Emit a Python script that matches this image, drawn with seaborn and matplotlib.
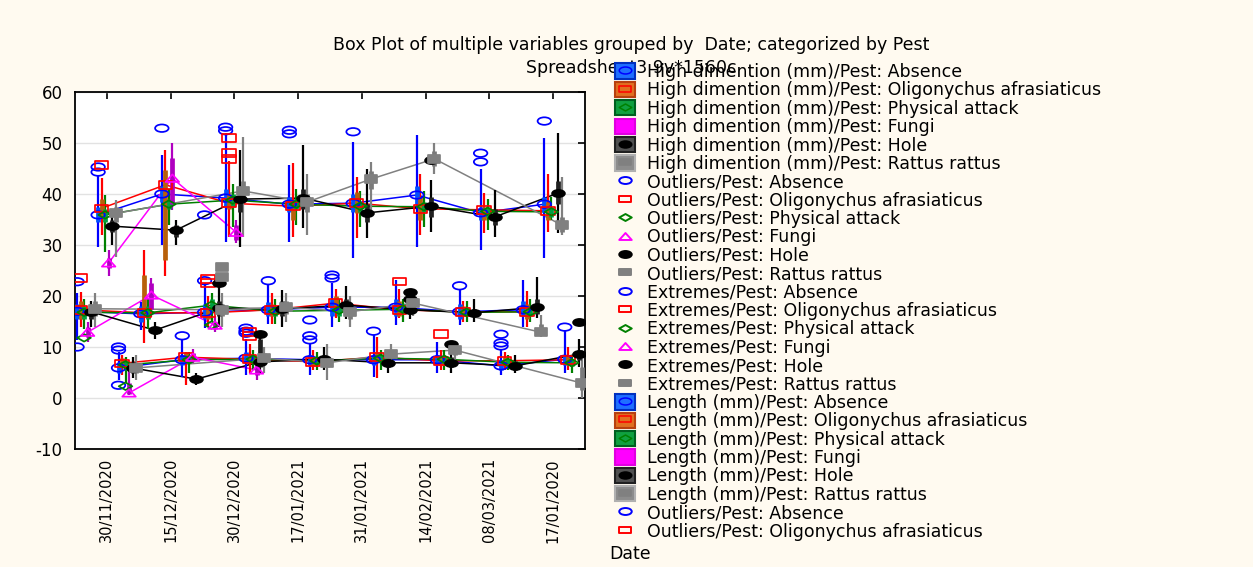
import numpy as np
import pandas as pd
import matplotlib
matplotlib.use("Agg")
import matplotlib.pyplot as plt
import matplotlib.patches as mpatches
from matplotlib.lines import Line2D
from matplotlib.path import Path
from matplotlib.markers import MarkerStyle
from matplotlib.legend_handler import HandlerTuple
import seaborn as sns

NA = np.nan

# ---------------- data ----------------
dates = ["30/11/2020", "15/12/2020", "30/12/2020", "17/01/2021",
         "31/01/2021", "14/02/2021", "08/03/2021", "17/01/2020"]
pests = ["Absence", "Oligonychus afrasiaticus", "Physical attack",
         "Fungi", "Hole", "Rattus rattus"]
variables = ["Length (mm)", "High dimention (mm)", "Third variable"]

# High dimention (mm): rows = pests, cols = dates
high_med = [[35.9, 40.0, 39.2, 38.0, 38.2, 39.8, 36.3, 38.0],
            [37.2, 41.8, 38.2, 37.6, 38.2, 37.1, 36.9, 36.7],
            [35.9, 38.0, 38.8, 38.0, 37.6, 37.5, 36.6, 36.5],
            [26.5, 43.1, 32.5, NA, NA, NA, NA, NA],
            [33.7, 32.9, 39.0, 39.2, 36.3, 37.6, 35.5, 40.2],
            [36.2, NA, 40.6, 38.4, 42.9, 46.9, NA, 33.9]]
high_q1 = [[34.5, 38.5, 37.5, 36.5, 36.5, 38.0, 35.0, 36.5],
           [35.5, 27.0, 37.0, 35.0, 36.3, 35.0, 35.0, 35.0],
           [34.5, 37.0, 37.5, 37.0, 36.5, 36.5, 35.5, 35.5],
           [25.5, 38.0, 31.0, NA, NA, NA, NA, NA],
           [32.5, 31.5, 36.5, 37.0, 34.5, 35.5, 34.0, 38.0],
           [34.5, NA, 38.5, 36.5, 41.0, 45.5, NA, 32.5]]
high_q3 = [[37.5, 41.5, 41.0, 39.5, 40.0, 41.5, 37.5, 39.5],
           [39.0, 44.7, 40.0, 37.5, 40.4, 39.4, 37.5, 38.5],
           [37.0, 39.0, 40.0, 39.0, 38.5, 38.5, 37.5, 37.5],
           [27.5, 47.0, 34.0, NA, NA, NA, NA, NA],
           [35.0, 34.0, 41.0, 41.0, 38.0, 39.5, 37.0, 42.5],
           [37.5, NA, 42.5, 40.0, 44.5, 48.5, NA, 35.5]]
high_lo = [[29.6, 30.0, 30.6, 30.6, 27.5, 29.6, 29.0, 27.5],
           [32.0, 24.0, 31.6, 31.5, 31.4, 32.0, 32.4, 32.5],
           [28.6, 34.0, 33.5, 34.0, 33.5, 33.5, 33.0, 34.9],
           [24.0, 36.9, 30.4, NA, NA, NA, NA, NA],
           [30.0, 30.0, 29.6, 33.3, 31.4, 32.5, 31.6, 32.4],
           [27.6, NA, 31.6, 32.0, 36.3, 44.0, NA, 32.0]]
high_hi = [[43.5, 47.6, 52.0, 45.7, 50.2, 51.6, 44.9, 51.0],
           [43.1, 48.6, 46.5, 46.0, 43.3, 44.0, 40.2, 44.0],
           [39.8, 41.0, 42.0, 41.0, 40.5, 40.5, 39.0, 39.4],
           [29.0, 50.0, 35.0, NA, NA, NA, NA, NA],
           [37.0, 35.0, 48.6, 49.6, 45.0, 42.7, 40.8, 52.0],
           [38.8, NA, 51.2, 44.0, 46.3, 50.0, NA, 43.3]]
# outliers / extremes: (pest index, date index, value)
high_out = [(0, 0, 45.3), (0, 0, 44.3), (0, 1, 52.9), (0, 2, 53.1), (0, 2, 52.4),
            (0, 3, 52.5), (0, 3, 51.8), (0, 4, 52.2), (0, 6, 48.0), (0, 6, 46.3),
            (0, 7, 54.3), (1, 0, 45.7), (1, 2, 51.0), (1, 2, 48.0), (1, 2, 46.9),
            (4, 5, 46.7)]

# Length (mm)
len_med = [[17.0, 16.5, 16.8, 17.3, 17.8, 17.8, 16.9, 17.3],
           [17.3, 16.7, 16.7, 17.3, 18.6, 17.3, 16.9, 16.9],
           [16.8, 16.7, 18.2, 17.0, 17.2, 17.4, 16.8, 16.9],
           [12.9, 20.2, 14.3, NA, NA, NA, NA, NA],
           [16.9, 13.3, 17.6, 17.5, 18.2, 17.3, 16.7, 17.8],
           [17.5, NA, 17.3, 17.8, 16.9, 18.6, NA, 12.9]]
len_q1 = [[15.5, 15.0, 15.5, 16.0, 16.0, 16.0, 15.5, 16.0],
          [15.5, 16.9, 15.5, 16.0, 17.0, 16.0, 16.0, 15.5],
          [15.5, 15.5, 17.0, 16.0, 16.0, 16.5, 16.0, 16.0],
          [12.0, 17.5, 13.5, NA, NA, NA, NA, NA],
          [15.5, 12.5, 16.0, 16.0, 17.0, 16.5, 16.0, 16.5],
          [16.0, NA, 16.0, 16.5, 15.5, 17.5, NA, 12.5]]
len_q3 = [[18.5, 18.0, 18.5, 18.8, 19.5, 19.5, 18.5, 19.0],
          [19.0, 24.1, 18.0, 18.5, 20.0, 19.0, 18.0, 18.5],
          [18.0, 18.0, 19.5, 18.0, 18.5, 18.5, 17.8, 18.0],
          [14.0, 22.5, 15.0, NA, NA, NA, NA, NA],
          [18.0, 14.0, 19.0, 19.0, 19.5, 18.5, 17.5, 19.5],
          [19.0, NA, 18.5, 19.0, 18.0, 19.5, NA, 14.5]]
len_lo = [[11.4, 13.3, 13.7, 14.5, 13.9, 14.3, 14.3, 13.9],
          [13.9, 10.8, 14.0, 14.5, 15.7, 15.7, 15.0, 14.0],
          [13.5, 13.5, 15.0, 14.5, 15.0, 15.0, 15.0, 15.0],
          [11.0, 15.9, 13.0, NA, NA, NA, NA, NA],
          [14.0, 11.5, 14.0, 14.0, 15.5, 15.5, 15.0, 15.7],
          [14.0, NA, 13.9, 15.0, 14.0, 16.0, NA, 12.0]]
len_hi = [[20.6, 18.8, 22.5, 22.3, 22.5, 23.1, 21.2, 23.1],
          [20.8, 29.0, 20.0, 20.5, 21.4, 21.4, 19.0, 21.0],
          [19.5, 19.4, 20.5, 19.5, 19.5, 19.5, 19.0, 19.5],
          [15.0, 23.5, 16.0, NA, NA, NA, NA, NA],
          [19.0, 15.0, 22.5, 21.2, 21.9, 20.0, 19.5, 23.7],
          [20.5, NA, 20.6, 20.5, 20.0, 21.0, NA, 16.3]]
len_out = [(0, 0, 22.8), (0, 0, 10.0), (0, 2, 23.0), (0, 2, 35.9), (0, 3, 23.0),
           (0, 4, 24.1), (0, 4, 23.5), (0, 6, 22.0), (1, 0, 23.5), (1, 2, 23.3),
           (1, 2, 22.5), (1, 5, 22.8), (2, 0, 11.8), (2, 2, 14.3), (4, 2, 22.5),
           (4, 5, 20.8), (4, 5, 19.4), (5, 2, 25.7), (5, 2, 23.7)]

# third variable (legend entries cut off in the original)
v3_med = [[5.9, 7.5, 7.8, 7.5, 7.5, 7.5, 6.3, 7.6],
          [6.8, 8.0, 7.6, 7.1, 8.0, 7.3, 7.3, 7.5],
          [6.5, 7.5, 7.6, 7.3, 7.8, 7.6, 7.0, 6.9],
          [1.0, 8.0, 5.5, NA, NA, NA, NA, NA],
          [5.9, 3.7, 7.1, 7.6, 6.9, 6.9, 6.3, 8.6],
          [5.9, NA, 7.8, 6.9, 8.6, 9.4, NA, 2.9]]
v3_q1 = [[5.0, 6.5, 6.8, 6.5, 6.5, 6.5, 5.5, 6.5],
         [6.0, 7.0, 6.8, 6.3, 7.0, 6.5, 6.5, 6.5],
         [5.5, 6.8, 6.8, 6.5, 7.0, 6.8, 6.3, 6.2],
         [0.8, 7.5, 4.5, NA, NA, NA, NA, NA],
         [5.0, 3.0, 6.0, 6.8, 6.0, 6.0, 5.5, 7.5],
         [5.0, NA, 7.0, 6.0, 7.8, 8.5, NA, 1.5]]
v3_q3 = [[7.0, 8.5, 9.0, 8.5, 8.5, 8.5, 7.5, 8.5],
         [7.8, 9.0, 8.5, 8.0, 9.0, 8.3, 8.0, 8.3],
         [7.3, 8.3, 8.4, 8.0, 8.5, 8.3, 7.7, 7.6],
         [3.0, 8.8, 6.5, NA, NA, NA, NA, NA],
         [7.0, 4.5, 11.5, 8.5, 8.0, 8.0, 7.2, 9.5],
         [6.8, NA, 8.8, 8.0, 9.5, 10.2, NA, 6.0]]
v3_lo = [[3.5, 4.1, 4.5, 4.5, 4.1, 5.0, 4.5, 4.9],
         [4.5, 2.5, 5.0, 5.5, 4.0, 5.5, 5.5, 5.5],
         [3.0, 5.0, 5.5, 5.5, 5.5, 5.5, 5.5, 5.0],
         [0.5, 6.9, 3.5, NA, NA, NA, NA, NA],
         [4.0, 2.5, 5.0, 5.5, 5.0, 5.0, 5.0, 6.0],
         [3.5, NA, 5.0, 3.5, 6.5, 7.5, NA, 0.0]]
v3_hi = [[9.0, 11.4, 11.5, 10.5, 12.4, 11.0, 9.5, 13.3],
         [8.5, 9.0, 10.5, 9.5, 12.0, 9.5, 9.0, 10.0],
         [8.0, 9.0, 9.5, 9.0, 9.5, 9.5, 8.5, 8.5],
         [6.0, 9.6, 8.0, NA, NA, NA, NA, NA],
         [8.0, 5.0, 12.5, 10.0, 9.0, 9.0, 8.5, 11.5],
         [8.5, NA, 10.0, 10.5, 10.5, 11.0, NA, 9.4]]
v3_out = [(0, 0, 10.0), (0, 0, 9.4), (0, 0, 2.5), (0, 1, 12.2), (0, 2, 13.7),
          (0, 2, 13.1), (0, 2, 12.7), (0, 3, 15.3), (0, 3, 12.2), (0, 3, 11.4),
          (0, 4, 13.1), (0, 6, 12.5), (0, 6, 10.8), (0, 6, 10.2), (0, 7, 13.9),
          (1, 2, 12.9), (1, 2, 12.2), (1, 5, 12.5), (2, 0, 2.3),
          (4, 2, 12.5), (4, 5, 10.6), (4, 7, 14.9)]

yticks = [-10, 0, 10, 20, 30, 40, 50, 60]

# ---------------- styling ----------------
W, H = 1253, 567
line_col = ["#0000FF", "#FF0000", "#008000", "#FF00FF", "#000000", "#808080"]
whisk_col = ["#0000FF", "#FF0000", "#008000", "#B000C0", "#000000", "#808080"]
box_col = ["#0050FF", "#B8600A", "#00A040", "#B000C0", "#202020", "#7A7A7A"]
leg_fill = ["#1F6FFF", "#E07020", "#10A040", "#FF00FF", "#505050", "#8C8C8C"]
leg_edge = ["#0030C0", "#B84010", "#006020", "#E000E0", "#202020", "#B0B0B0"]
mk_face = ["none", "none", "none", "none", "#000000", "#808080"]
mk_edge = ["#0000FF", "#FF0000", "#008000", "#FF00FF", "#000000", "#808080"]

SX = 1.8  # horizontal stretch of the markers (as in the original)


def stretched(verts, codes=None):
    v = np.asarray(verts, float) * np.array([SX, 1.0])
    return MarkerStyle(Path(v, codes))


circ = Path.unit_circle()
sq_codes = [Path.MOVETO, Path.LINETO, Path.LINETO, Path.LINETO, Path.CLOSEPOLY]
markers = [
    stretched(circ.vertices, circ.codes),
    stretched([(-1, -1), (1, -1), (1, 1), (-1, 1), (-1, -1)], sq_codes),
    stretched([(0, 1), (1, 0), (0, -1), (-1, 0), (0, 1)], sq_codes),
    stretched([(0, 1), (-1, -1), (1, -1), (0, 1)],
              [Path.MOVETO, Path.LINETO, Path.LINETO, Path.CLOSEPOLY]),
    stretched(circ.vertices, circ.codes),
    stretched([(-1, -1), (1, -1), (1, 1), (-1, 1), (-1, -1)], sq_codes),
]

sns.set_theme(style="white")
plt.rcParams["font.family"] = ["DejaVu Sans"]
for k in ["text.color", "axes.labelcolor", "xtick.color", "ytick.color"]:
    plt.rcParams[k] = "black"

var_center = [-0.33, 0.0, 0.32]
pest_step = 0.055

stats = [(len_med, len_q1, len_q3, len_lo, len_hi, len_out),
         (high_med, high_q1, high_q3, high_lo, high_hi, high_out),
         (v3_med, v3_q1, v3_q3, v3_lo, v3_hi, v3_out)]

rows, orows = [], []
for vi, (med, q1, q3, lo, hi, outs) in enumerate(stats):
    for pi, pest in enumerate(pests):
        for di in range(len(dates)):
            rows.append(dict(variable=variables[vi], pest=pest, pi=pi, date=di,
                             x=di + var_center[vi] + (pi - 2.5) * pest_step,
                             median=med[pi][di], q1=q1[pi][di], q3=q3[pi][di],
                             lo=lo[pi][di], hi=hi[pi][di]))
    for pi, di, val in outs:
        orows.append(dict(variable=variables[vi], pest=pests[pi], pi=pi, date=di,
                          x=di + var_center[vi] + (pi - 2.5) * pest_step, value=val))
df = pd.DataFrame(rows)
dfo = pd.DataFrame(orows)

fig = plt.figure(figsize=(W / 100, H / 100), dpi=100, facecolor="#FFFAF0")
ax = fig.add_axes([75 / W, 1 - 449 / H, 510 / W, 357 / H])
ax.set_facecolor("white")

# connecting lines through the medians
sns.lineplot(data=df.dropna(subset=["median"]), x="x", y="median", hue="pest",
             hue_order=pests, units="variable", estimator=None,
             palette=dict(zip(pests, line_col)), legend=False, lw=1.1, ax=ax, zorder=2)

for pi, pest in enumerate(pests):
    sub = df[(df.pest == pest)].dropna(subset=["median"])
    ax.vlines(sub.x, sub.lo, sub.hi, color=whisk_col[pi], lw=1.6, zorder=3)
    ax.vlines(sub.x, sub.q1, sub.q3, color=box_col[pi], lw=3.4, zorder=3.5)

for pi, pest in enumerate(pests):
    sub = df[(df.pest == pest)].dropna(subset=["median"])
    sz = 95 if mk_face[pi] == "none" else 85
    sns.scatterplot(data=sub, x="x", y="median", marker=markers[pi], s=sz,
                    color=mk_edge[pi], facecolor=mk_face[pi], edgecolor=mk_edge[pi],
                    linewidth=1.25, legend=False, ax=ax, zorder=5)
    osub = dfo[dfo.pest == pest]
    if len(osub):
        sns.scatterplot(data=osub, x="x", y="value", marker=markers[pi], s=sz,
                        color=mk_edge[pi], facecolor=mk_face[pi], edgecolor=mk_edge[pi],
                        linewidth=1.25, legend=False, ax=ax, zorder=5)

ax.set_xlim(-0.5, 7.5)
ax.set_ylim(-10, 60)
ax.set_xticks(range(len(dates)))
ax.set_xticklabels(dates, rotation=90, fontsize=10.5)
ax.set_yticks(yticks)
ax.set_yticklabels([str(t) for t in yticks], fontsize=12)
ax.tick_params(axis="both", direction="in", top=True, right=True, length=5,
               width=1.2, color="black", labelcolor="black")
ax.tick_params(axis="x", pad=6.5)
ax.tick_params(axis="y", pad=9)
ax.yaxis.grid(True, color="#E2E2E2", lw=1)
ax.xaxis.grid(False)
ax.set_axisbelow(True)
for s in ax.spines.values():
    s.set_color("black")
    s.set_linewidth(1.3)
ax.set_ylabel("")
ax.set_xlabel("Date", fontsize=12.5, color="black")
ax.xaxis.set_label_coords((630 - 75) / 510, (449 - 545) / 357)

fig.text(631 / W, 1 - 45 / H,
         "Box Plot of multiple variables grouped by  Date; categorized by Pest",
         ha="center", va="center", fontsize=12.5, color="black")
fig.text(631 / W, 1 - 68 / H, "Spreadsheet3 9v*1560c",
         ha="center", va="center", fontsize=12.5, color="black")

# legend
handles, labels = [], []
for pi, pest in enumerate(pests):
    handles.append((mpatches.Patch(facecolor=leg_fill[pi], edgecolor=leg_edge[pi], lw=1.5),
                    Line2D([], [], ls="none", marker=markers[pi], markersize=9,
                           markerfacecolor=mk_face[pi], markeredgecolor=mk_edge[pi],
                           markeredgewidth=1.1)))
    labels.append("High dimention (mm)/Pest: " + pest)
for kind in ["Outliers", "Extremes"]:
    for pi, pest in enumerate(pests):
        handles.append(Line2D([], [], ls="none", marker=markers[pi], markersize=9,
                              markerfacecolor=mk_face[pi], markeredgecolor=mk_edge[pi],
                              markeredgewidth=1.4))
        labels.append(kind + "/Pest: " + pest)
for pi, pest in enumerate(pests):
    handles.append((mpatches.Patch(facecolor=leg_fill[pi], edgecolor=leg_edge[pi], lw=1.5),
                    Line2D([], [], ls="none", marker=markers[pi], markersize=9,
                           markerfacecolor=mk_face[pi], markeredgecolor=mk_edge[pi],
                           markeredgewidth=1.1)))
    labels.append("Length (mm)/Pest: " + pest)
for pi in [0, 1]:
    handles.append(Line2D([], [], ls="none", marker=markers[pi], markersize=9,
                          markerfacecolor=mk_face[pi], markeredgecolor=mk_edge[pi],
                          markeredgewidth=1.4))
    labels.append("Outliers/Pest: " + pests[pi])

leg = fig.legend(handles, labels, loc="upper left", bbox_to_anchor=(615 / W, 1 - 63 / H),
                 frameon=False, fontsize=12.5, handlelength=1.15, handleheight=0.98,
                 handletextpad=0.7, labelspacing=0.022, borderpad=0, borderaxespad=0,
                 handler_map={tuple: HandlerTuple(ndivide=1, pad=0)})
for t in leg.get_texts():
    t.set_color("black")

fig.savefig("out.png", dpi=100, facecolor=fig.get_facecolor())
